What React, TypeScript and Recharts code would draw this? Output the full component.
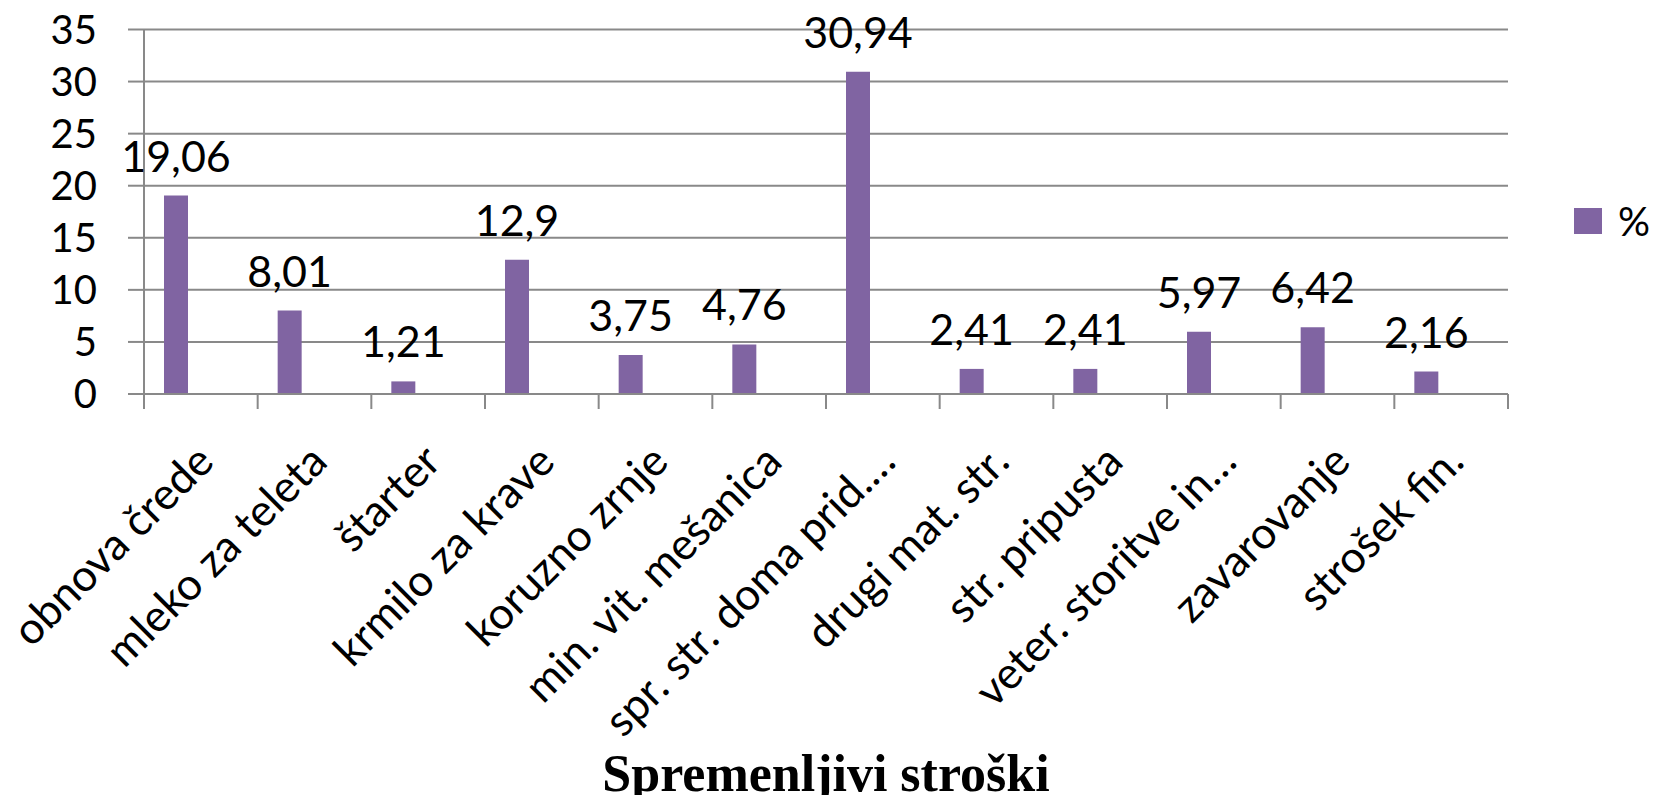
import { Bar, BarChart, CartesianGrid, Label, LabelList, Legend, XAxis, YAxis } from 'recharts';

const categories = [
  'obnova črede',
  'mleko za teleta',
  'štarter',
  'krmilo za krave',
  'koruzno zrnje',
  'min. vit. mešanica',
  'spr. str. doma prid.…',
  'drugi mat. str.',
  'str. pripusta',
  'veter. storitve in…',
  'zavarovanje',
  'strošek fin.',
];

const shares = [19.06, 8.01, 1.21, 12.9, 3.75, 4.76, 30.94, 2.41, 2.41, 5.97, 6.42, 2.16];

const yTicks = [0, 5, 10, 15, 20, 25, 30, 35];

const data = categories.map((name, i) => ({ name, pct: shares[i] }));

const GRID = '#898989';
const PURPLE = '#8064A2';
const FONT = 'Lato, "Open Sans", sans-serif';

function CategoryTick(props: any) {
  const { x, y, payload, index, visibleTicksCount } = props;
  const half = payload?.offset ?? 1364 / 24;
  const tx = x + 15;
  const ty = y + 70;
  return (
    <g>
      <line x1={x - half} x2={x - half} y1={y} y2={y + 15} stroke={GRID} strokeWidth={2} />
      {index === visibleTicksCount - 1 && (
        <line x1={x + half} x2={x + half} y1={y} y2={y + 15} stroke={GRID} strokeWidth={2} />
      )}
      <text
        x={tx}
        y={ty}
        textAnchor="end"
        transform={`rotate(-45, ${tx}, ${ty})`}
        fontSize={44}
        fontFamily={FONT}
        fill="#000"
      >
        {payload.value}
      </text>
    </g>
  );
}

function SeriesLegend() {
  return (
    <div
      style={{
        display: 'flex',
        alignItems: 'center',
        fontFamily: FONT,
        fontSize: 40,
        lineHeight: '48px',
        color: '#000',
      }}
    >
      <span style={{ display: 'inline-block', width: 28, height: 26, background: PURPLE, marginRight: 16 }} />
      %
    </div>
  );
}

export default function App() {
  return (
    <div style={{ position: 'absolute', left: 0, top: 0 }}>
      <BarChart
        width={1653}
        height={795}
        data={data}
        margin={{ top: 29.5, right: 145, left: 0, bottom: 0 }}
        barGap={1}
      >
        <CartesianGrid vertical={false} stroke={GRID} strokeWidth={2} />
        <XAxis
          dataKey="name"
          height={401}
          interval={0}
          tickSize={0}
          tickMargin={0}
          tickLine={false}
          axisLine={{ stroke: GRID, strokeWidth: 2 }}
          tick={<CategoryTick />}
        >
          <Label
            value="Spremenljivi stroški"
            position="insideBottom"
            offset={4}
            style={{ fontFamily: '"Liberation Serif", serif', fontWeight: 'bold', fontSize: 52, fill: '#000' }}
          />
        </XAxis>
        <YAxis
          width={144}
          domain={[0, 35]}
          ticks={yTicks}
          interval={0}
          tickSize={16}
          tickMargin={31}
          axisLine={{ stroke: GRID, strokeWidth: 2 }}
          tickLine={{ stroke: GRID, strokeWidth: 2 }}
          tick={{ fontSize: 40, fill: '#000', fontFamily: FONT }}
        />
        <Legend
          layout="vertical"
          align="center"
          verticalAlign="middle"
          wrapperStyle={{ left: 1574, top: 197, width: 'auto', height: 'auto' }}
          content={<SeriesLegend />}
        />
        <Bar dataKey="pct" name="%" fill={PURPLE} barSize={24} isAnimationActive={false}>
          <LabelList
            dataKey="pct"
            position="top"
            offset={24}
            formatter={(v: any) => String(v).replace('.', ',')}
            style={{ fontSize: 43, fill: '#000', fontFamily: FONT }}
          />
        </Bar>
        <Bar dataKey="b" fill={PURPLE} barSize={24} legendType="none" isAnimationActive={false} />
        <Bar dataKey="c" fill={PURPLE} barSize={24} legendType="none" isAnimationActive={false} />
      </BarChart>
    </div>
  );
}
